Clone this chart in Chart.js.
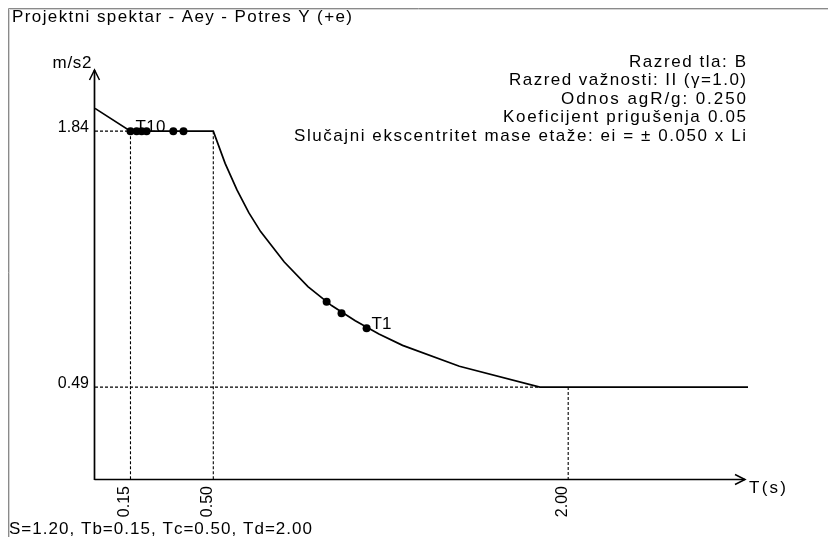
<!DOCTYPE html>
<html>
<head>
<meta charset="utf-8">
<script src="https://cdn.jsdelivr.net/npm/chart.js@4/dist/chart.umd.min.js"></script>
<style>
html,body{margin:0;padding:0;background:#fff;}
canvas{display:block;}
</style>
</head>
<body>
<canvas id="c" width="828" height="537"></canvas>
<script>
// ---- data ----
const titleText = 'Projektni spektar - Aey - Potres Y (+e)';
const infoLines = ['Razred tla: B', 'Razred važnosti: II (γ=1.0)', 'Odnos agR/g: 0.250', 'Koeficijent prigušenja 0.05', 'Slučajni ekscentritet mase etaže: ei = ± 0.050 x Li'];
const footerText = 'S=1.20, Tb=0.15, Tc=0.50, Td=2.00';
const yUnit = 'm/s2';
const xUnit = 'T(s)';
const curveT  = [0, 0.15, 0.5, 0.55, 0.6, 0.65, 0.7, 0.8, 0.9, 1.0, 1.1, 1.2, 1.3, 1.54, 1.88, 2.76];
const curveSa = [1.96, 1.84, 1.84, 1.67, 1.53, 1.41, 1.31, 1.15, 1.02, 0.92, 0.84, 0.77, 0.71, 0.60, 0.49, 0.49];
const modeT  = [0.15, 0.176, 0.197, 0.218, 0.331, 0.374, 0.979, 1.042, 1.148];
const modeSa = [1.84, 1.84, 1.84, 1.84, 1.84, 1.84, 0.94, 0.88, 0.80];
const modeLabels = ['T10', '', '', '', '', '', '', '', 'T1'];
const xTickValues = [0.15, 0.50, 2.00];
const xTickLabels = ['0.15', '0.50', '2.00'];
const yTickValues = [1.84, 0.49];
const yTickLabels = ['1.84', '0.49'];
const floorEndT = 1.88;
const xMax = 2.76, yMax = 2.1625;

const FONT = '"Liberation Sans", Arial, sans-serif';

const pts = (xs, ys) => xs.map((x, i) => ({x, y: ys[i]}));
const dashStyle = {borderColor: '#000', borderWidth: 1.1, borderDash: [3, 2], pointRadius: 0, fill: false, showLine: true};

const datasets = [
  {data: pts(curveT, curveSa), borderColor: '#000', borderWidth: 1.7, pointRadius: 0, showLine: true, fill: false, tension: 0},
  Object.assign({data: [{x: 0, y: yTickValues[0]}, {x: xTickValues[0], y: yTickValues[0]}]}, dashStyle),
  Object.assign({data: [{x: 0, y: yTickValues[1]}, {x: floorEndT, y: yTickValues[1]}]}, dashStyle),
  Object.assign({data: [{x: xTickValues[0], y: yTickValues[0]}, {x: xTickValues[0], y: 0}]}, dashStyle),
  Object.assign({data: [{x: xTickValues[1], y: yTickValues[0]}, {x: xTickValues[1], y: 0}]}, dashStyle),
  Object.assign({data: [{x: xTickValues[2], y: yTickValues[1]}, {x: xTickValues[2], y: 0}]}, dashStyle),
  {data: pts(modeT, modeSa), showLine: false, pointRadius: 4, pointBackgroundColor: '#000', pointBorderColor: '#000', pointBorderWidth: 0}
];

// draw text char by char, spread so that it spans targetW pixels
function fitText(ctx, text, x, y, targetW, align) {
  const chars = Array.from(text);
  const widths = chars.map(c => ctx.measureText(c).width);
  const natural = widths.reduce((a, b) => a + b, 0);
  const spacing = chars.length > 1 ? Math.max(0, (targetW - natural) / (chars.length - 1)) : 0;
  const total = natural + spacing * (chars.length - 1);
  let cx = align === 'right' ? x - total : align === 'center' ? x - total / 2 : x;
  const prev = ctx.textAlign;
  ctx.textAlign = 'left';
  chars.forEach((c, i) => { ctx.fillText(c, cx, y); cx += widths[i] + spacing; });
  ctx.textAlign = prev;
}

const decor = {
  id: 'decor',
  afterDatasetsDraw(chart) {
    const ctx = chart.ctx;
    const xs = chart.scales.x, ys = chart.scales.y;
    const x0 = xs.getPixelForValue(0), y0 = ys.getPixelForValue(0);
    const top = chart.chartArea.top, right = chart.chartArea.right;
    ctx.save();
    // frame
    ctx.lineWidth = 1;
    ctx.strokeStyle = '#8a8a8a';
    ctx.beginPath(); ctx.moveTo(8.5, 537); ctx.lineTo(8.5, 8.5); ctx.lineTo(828, 8.5); ctx.stroke();
    ctx.strokeStyle = '#d4d4d4';
    ctx.beginPath(); ctx.moveTo(9.5, 537); ctx.lineTo(9.5, 9.5); ctx.lineTo(828, 9.5); ctx.stroke();
    // axes
    ctx.strokeStyle = '#000';
    ctx.lineWidth = 1.7;
    ctx.beginPath(); ctx.moveTo(x0 - 0.5, y0); ctx.lineTo(x0 - 0.5, top); ctx.stroke();
    ctx.beginPath(); ctx.moveTo(x0 - 0.5, y0 - 0.5); ctx.lineTo(right - 3, y0 - 0.5); ctx.stroke();
    // arrow heads
    ctx.lineWidth = 1.5;
    ctx.beginPath(); ctx.moveTo(x0 - 5.5, top + 10); ctx.lineTo(x0 - 0.5, top); ctx.lineTo(x0 + 4.5, top + 10); ctx.stroke();
    ctx.beginPath(); ctx.moveTo(right - 13, y0 - 5.5); ctx.lineTo(right - 3, y0 - 0.5); ctx.lineTo(right - 13, y0 + 4.5); ctx.stroke();
    // texts
    ctx.fillStyle = '#000';
    ctx.textBaseline = 'alphabetic';
    ctx.font = '17px ' + FONT;
    fitText(ctx, titleText, 12, 22, 340, 'left');
    fitText(ctx, footerText, 9, 534, 303, 'left');
    fitText(ctx, xUnit, right + 1, y0 + 13, 37, 'left');
    fitText(ctx, yUnit, x0 - 23, top - 2, 39, 'center');
    const infoW = [117, 237, 185, 243, 452];
    infoLines.forEach((t, i) => fitText(ctx, t, right - 2, 67 + i * 18.4, infoW[i], 'right'));
    // y tick labels
    ctx.font = '16px ' + FONT;
    ctx.textAlign = 'right';
    yTickValues.forEach((v, i) => ctx.fillText(yTickLabels[i], x0 - 6, ys.getPixelForValue(v) + 1));
    // x tick labels rotated
    xTickValues.forEach((v, i) => {
      ctx.save();
      ctx.translate(xs.getPixelForValue(v) - 1, y0 + 6);
      ctx.rotate(-Math.PI / 2);
      ctx.textAlign = 'right';
      ctx.fillText(xTickLabels[i], 0, 0);
      ctx.restore();
    });
    // mode labels
    ctx.font = '17px ' + FONT;
    ctx.textAlign = 'left';
    const labW = {T10: 30, T1: 18};
    modeLabels.forEach((lab, i) => {
      if (!lab) return;
      fitText(ctx, lab, xs.getPixelForValue(modeT[i]) + 5, ys.getPixelForValue(modeSa[i]) + 1, labW[lab] || 0, 'left');
    });
    ctx.restore();
  }
};

new Chart(document.getElementById('c'), {
  type: 'scatter',
  data: {datasets},
  options: {
    responsive: false,
    animation: false,
    devicePixelRatio: 1,
    layout: {padding: {left: 95, right: 80, top: 70, bottom: 57}},
    plugins: {legend: {display: false}, tooltip: {enabled: false}},
    elements: {line: {tension: 0}},
    scales: {
      x: {type: 'linear', min: 0, max: xMax, display: false},
      y: {type: 'linear', min: 0, max: yMax, display: false}
    },
    clip: false
  },
  plugins: [decor]
});
</script>
</body>
</html>
